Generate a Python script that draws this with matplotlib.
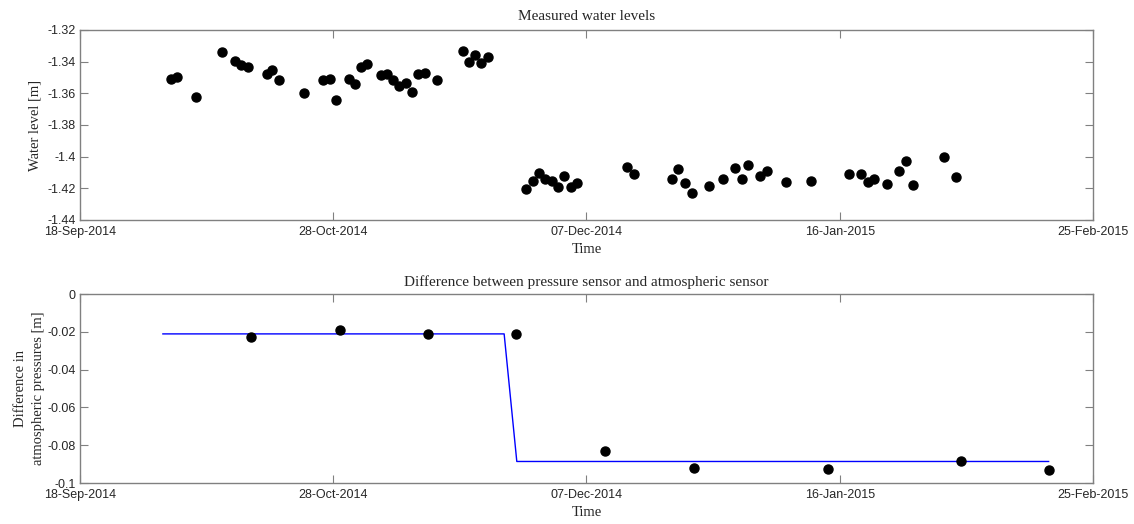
import numpy as np
import pandas as pd
import matplotlib
matplotlib.use("Agg")
import matplotlib.pyplot as plt
import matplotlib.dates as mdates
from matplotlib.ticker import FuncFormatter

# days since 18-Sep-2014
level_days = [14.4, 15.4, 18.4, 22.4, 24.5, 25.4, 26.5, 29.5, 30.4, 31.4,
              35.4, 38.4, 39.5, 40.4, 42.5, 43.4, 44.4, 45.4, 47.5, 48.5,
              49.5, 50.4, 51.5, 52.5, 53.4, 54.5, 56.4, 60.5, 61.4, 62.4,
              63.4, 64.5, 70.5, 71.5, 72.5, 73.5, 74.5, 75.5, 76.4, 77.5,
              78.5, 86.4, 87.5, 93.5, 94.4, 95.5, 96.6, 99.4, 101.5, 103.5,
              104.5, 105.5, 107.4, 108.5, 111.5, 115.4, 121.5, 123.4, 124.5, 125.4,
              127.5, 129.4, 130.4, 131.5, 136.5, 138.4]
level_vals = [-1.3511, -1.3499, -1.3625, -1.3341, -1.3398, -1.3419, -1.3432, -1.3480, -1.3455, -1.3518,
              -1.3596, -1.3518, -1.3511, -1.3644, -1.3510, -1.3541, -1.3434, -1.3413, -1.3486, -1.3478,
              -1.3518, -1.3556, -1.3533, -1.3590, -1.3480, -1.3474, -1.3518, -1.3331, -1.3404, -1.3358,
              -1.3410, -1.3371, -1.4203, -1.4154, -1.4105, -1.4141, -1.4156, -1.4190, -1.4122, -1.4190,
              -1.4165, -1.4067, -1.4112, -1.4141, -1.4080, -1.4165, -1.4232, -1.4184, -1.4141, -1.4074,
              -1.4141, -1.4051, -1.4122, -1.4093, -1.4160, -1.4154, -1.4110, -1.4110, -1.4160, -1.4141,
              -1.4171, -1.4093, -1.4026, -1.4177, -1.4002, -1.4129]

diff_days = [27.0, 41.1, 54.9, 68.9, 83.0, 97.0, 118.1, 139.1, 153.0]
diff_vals = [-0.0228, -0.0191, -0.0212, -0.0212, -0.0828, -0.0919, -0.0928, -0.0884, -0.0933]

fit_days = [13.1, 67.0, 69.0, 153.0]
fit_vals = [-0.0211, -0.0211, -0.0886, -0.0886]

start = pd.Timestamp("2014-09-18")
to_dates = lambda d: start + pd.to_timedelta(d, unit="D")
ticks = [start + pd.Timedelta(days=40 * k) for k in range(5)]

serif = ["Liberation Serif", "DejaVu Serif"]
sans = ["Liberation Sans", "DejaVu Sans"]
spine_col = "#808080"
text_col = "#262626"

fig = plt.figure(figsize=(11.34, 5.24), dpi=100)
ax1 = fig.add_axes([0.0705, 0.5802, 0.8933, 0.3626])
ax2 = fig.add_axes([0.0705, 0.0782, 0.8933, 0.3607])


def style(ax):
    ax.set_xlim(ticks[0], ticks[-1])
    ax.set_xticks(ticks)
    ax.xaxis.set_major_formatter(mdates.DateFormatter("%d-%b-%Y"))
    ax.tick_params(direction="in", top=True, right=True, length=6, width=0.8,
                   color=spine_col, labelcolor=text_col, labelsize=9)
    ax.tick_params(axis="x", pad=4)
    ax.tick_params(axis="y", pad=3)
    for lab in ax.get_xticklabels() + ax.get_yticklabels():
        lab.set_family(sans)
    for s in ax.spines.values():
        s.set_color(spine_col)
        s.set_linewidth(1.0)
    ax.set_xlabel("Time", family=serif, fontsize=10.5, color=text_col, labelpad=4)
    ax.yaxis.set_major_formatter(FuncFormatter(lambda v, p: "%g" % round(v, 4)))


ax1.plot(to_dates(level_days), level_vals, "o", color="black", markersize=6.5)
ax1.set_ylim(-1.44, -1.32)
ax1.set_yticks(np.arange(-1.44, -1.319, 0.02))
style(ax1)
ax1.set_ylabel("Water level [m]", family=serif, fontsize=10.5, color=text_col)
ax1.set_title("Measured water levels", family=serif, fontsize=11, color=text_col, pad=7)

ax2.plot(to_dates(fit_days), fit_vals, "-", color="#0000ff", linewidth=1.0)
ax2.plot(to_dates(diff_days), diff_vals, "o", color="black", markersize=6.5)
ax2.set_ylim(-0.1, 0)
ax2.set_yticks(np.arange(-0.1, 0.001, 0.02))
style(ax2)
ax2.set_ylabel("Difference in\natmospheric pressures [m]", family=serif, fontsize=10.5,
               color=text_col, linespacing=1.5, labelpad=2)
ax2.set_title("Difference between pressure sensor and atmospheric sensor", family=serif,
              fontsize=11, color=text_col, pad=6)

fig.savefig("out.png", dpi=100)
